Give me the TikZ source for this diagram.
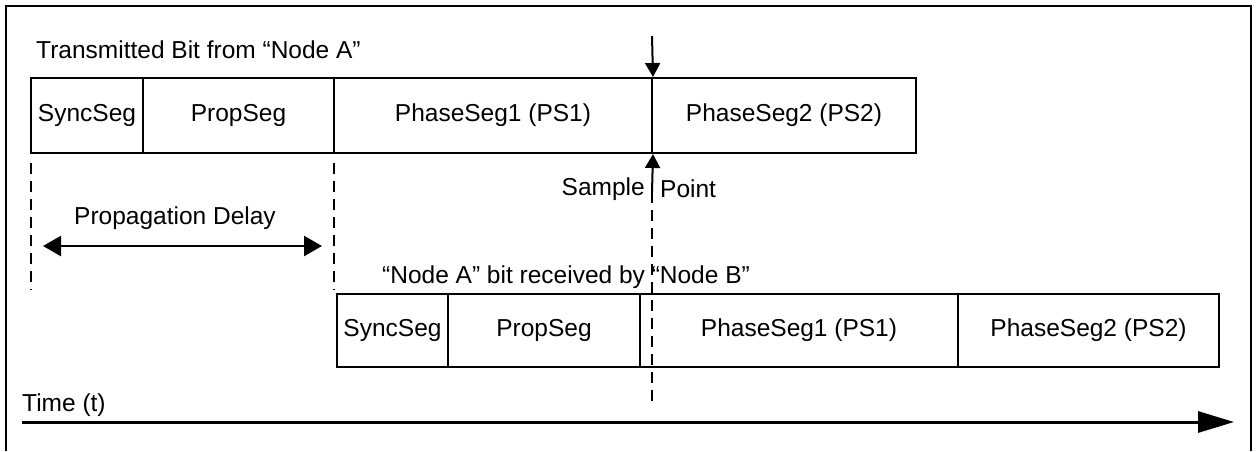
\documentclass[tikz,border=0pt]{standalone}
\usepackage{fontspec}
\setmainfont{Liberation Sans}
\usetikzlibrary{arrows.meta}
\begin{document}
\begin{tikzpicture}[x=1pt,y=-1pt,
  every node/.style={font=\fontsize{24.5}{28}\selectfont},
  seg/.style={draw, line width=2pt, inner sep=0pt, minimum height=75pt},
  segb/.style={draw, line width=2pt, inner sep=0pt, minimum height=73pt},
  txt/.style={inner sep=0pt},
  guide/.style={line width=1.6pt, dash pattern=on 11pt off 7pt},
  ptr/.style={line width=2pt, -{Triangle[length=14pt,width=15pt]}},
  span/.style={line width=2.5pt, {Triangle[length=18pt,width=20pt]}-{Triangle[length=18pt,width=20pt]}},
  axis/.style={line width=3pt, -{Triangle[length=36pt,width=21pt]}}]
\useasboundingbox (0,0) rectangle (1257,451);
% frame (no bottom edge)
\draw[line width=2.8pt] (6,451) -- (6,6) -- (1251,6) -- (1251,451);

% transmitted bit
\node[txt, anchor=west] (tl) at (36,50) {Transmitted Bit from “Node A”};
\node[seg, minimum width=112pt] (a1) at (87,115.5) {SyncSeg};
\node[seg, minimum width=191pt] (a2) at (238.5,115.5) {PropSeg};
\node[seg, minimum width=318pt] (a3) at (493,115.5) {PhaseSeg1 (PS1)};
\node[seg, minimum width=264pt] (a4) at (784,115.5) {PhaseSeg2 (PS2)};

% received bit
\node[txt] (rl) at (566,277) {“Node A” bit received by “Node B”};
\node[segb, minimum width=111pt] (b1) at (392.5,330.5) {SyncSeg};
\node[segb, minimum width=192pt] (b2) at (544,330.5) {PropSeg};
\node[segb, minimum width=318pt] (b3) at (799,330.5) {PhaseSeg1 (PS1)};
\node[segb, minimum width=261pt] (b4) at (1088.5,330.5) {PhaseSeg2 (PS2)};

% sample point
\coordinate (tp) at (652,36);
\draw[ptr] (tp) -- (a3.north east);
\coordinate (sp) at (652,192);
\coordinate (se) at (652,402);
\draw[ptr] (sp) -- (a3.south east);
\draw[guide] (sp) -- (se);
\node[txt, anchor=east] (sl) at (645,189) {Sample};
\node[txt, anchor=west] (pl) at (660,189) {Point};

% propagation delay
\coordinate (d1) at (31,163);
\coordinate (d2) at (31,290);
\coordinate (d3) at (334,163);
\coordinate (d4) at (334,290);
\draw[guide] (d1) -- (d2);
\draw[guide] (d3) -- (d4);
\node[txt] (pd) at (175,218) {Propagation Delay};
\coordinate (p1) at (43,246);
\coordinate (p2) at (322,246);
\draw[span] (p1) -- (p2);

% time axis
\node[txt, anchor=west] (tt) at (22,405) {Time (t)};
\coordinate (t1) at (22,422);
\coordinate (t2) at (1234,422);
\draw[axis] (t1) -- (t2);
\end{tikzpicture}
\end{document}
